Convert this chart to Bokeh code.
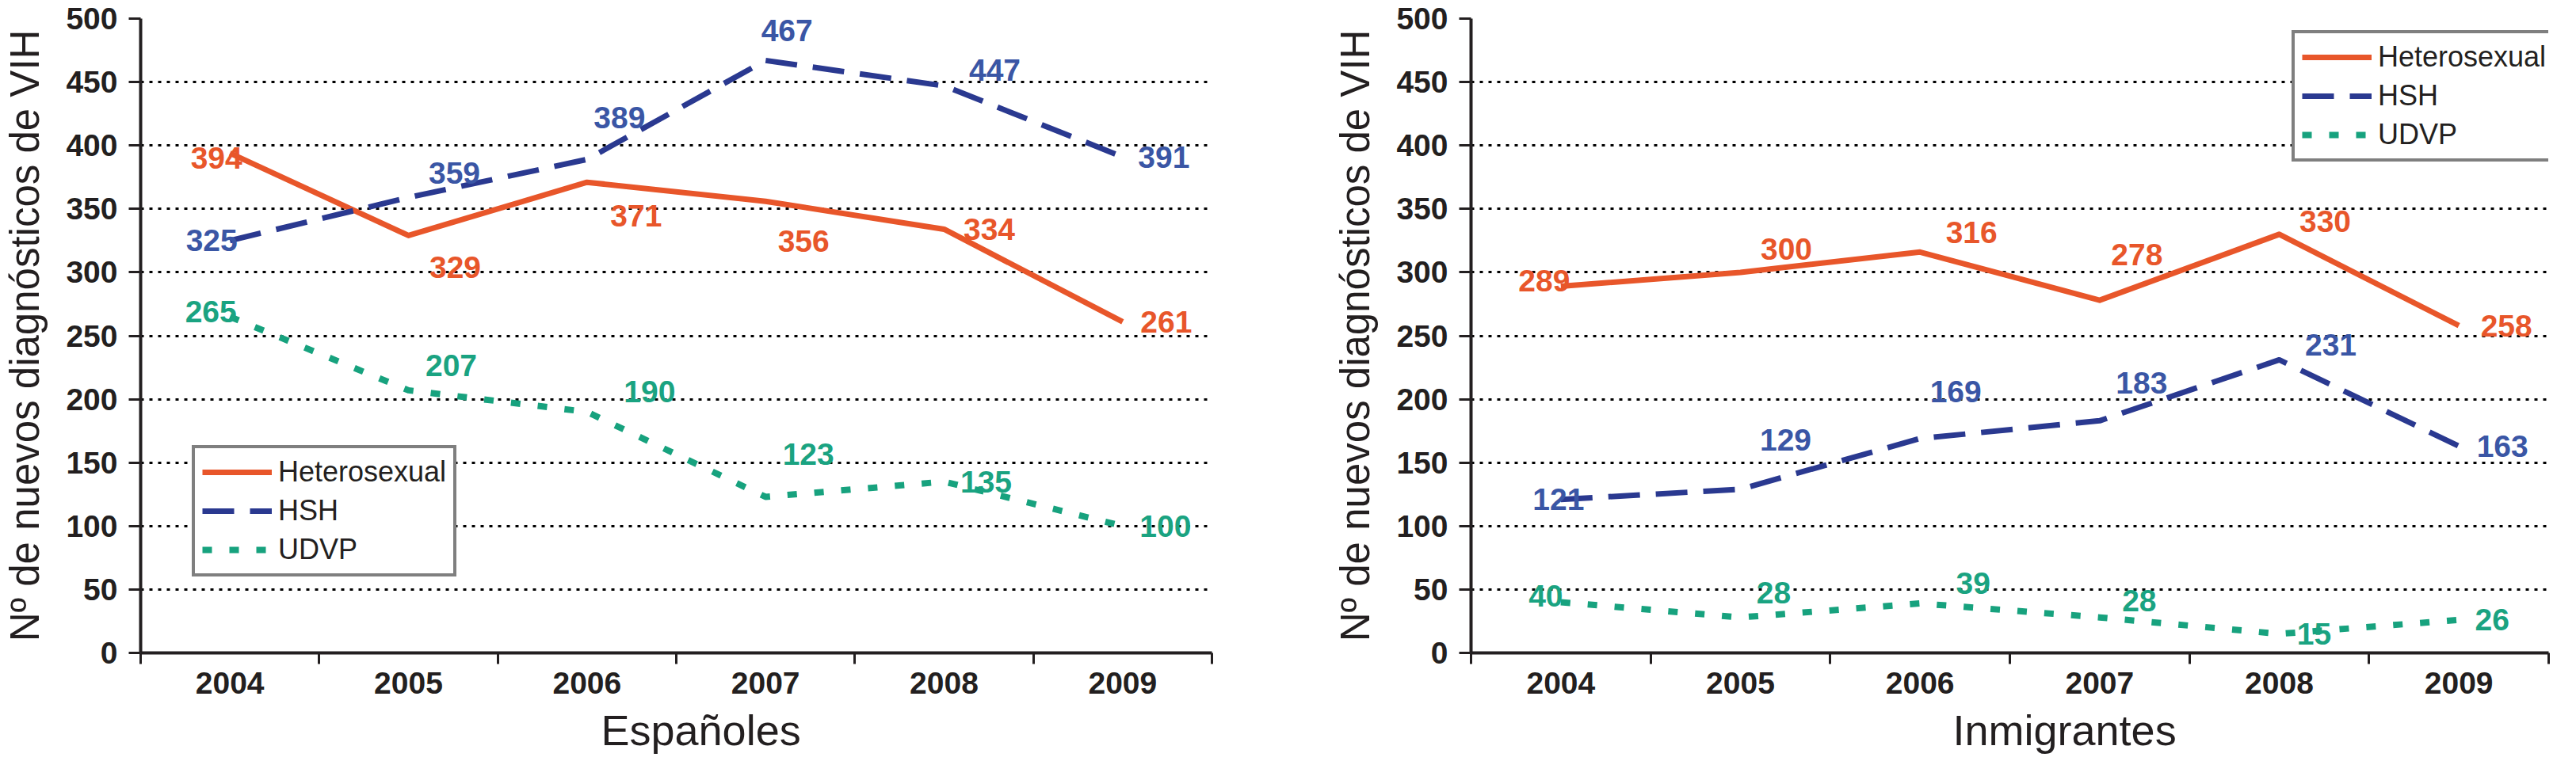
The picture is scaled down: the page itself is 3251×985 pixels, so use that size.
from bokeh.plotting import figure
from bokeh.models import Range1d, FixedTicker, Title
from bokeh.layouts import row
from bokeh.core.properties import value
from bokeh.embed import file_html
from bokeh.resources import INLINE

# ---------------- data ----------------
years = ["2004", "2005", "2006", "2007", "2008", "2009"]
series_names = ["Heterosexual", "HSH", "UDVP"]

esp_hetero = [394, 329, 371, 356, 334, 261]
esp_hsh = [325, 359, 389, 467, 447, 391]
esp_udvp = [265, 207, 190, 123, 135, 100]

inm_hetero = [289, 300, 316, 278, 330, 258]
inm_hsh = [121, 129, 169, 183, 231, 163]
inm_udvp = [40, 28, 39, 28, 15, 26]

y_ticks = list(range(0, 501, 50))
y_title = "Nº de nuevos diagnósticos de VIH"
title_esp = "Españoles"
title_inm = "Inmigrantes"

# data-label placement offsets in pixels (dx right, dy down), per series
esp_dx = [[-17, 59, 62, 48, 57, 55], [-23, 58, 41, 27, 64, 52], [-24, 54, 79, 54, 53, 54]]
esp_dy = [[6, 40, 42, 50, 0, 0], [0, -31, -53, -38, -20, 0], [-6, -31, -26, -54, 0, 0]]
inm_dx = [[-21, 58, 65, 47, 58, 60], [-3, 57, 45, 53, 65, 55], [-19, 42, 67, 50, 44, 42]]
inm_dy = [[-7, -29, -25, -58, -16, 0], [0, -62, -59, -48, -19, 0], [-8, -31, -26, -21, 0, 0]]

# ---------------- styles ----------------
FONT = "Liberation Sans"
INK = "#231F20"
line_colors = ["#E8562A", "#2A3990", "#17A27E"]
text_colors = ["#E8562A", "#3A56A5", "#1AA381"]
dashes = ["solid", "40 20", "12 22"]
widths = [7, 7, 8]


def make_chart(series, dxs, dys, title, title_shift, legend_loc,
               width, height, b_left, b_right, b_top, b_bottom):
    p = figure(width=width, height=height, output_backend="svg",
               toolbar_location=None,
               x_range=Range1d(-0.5, 5.5), y_range=Range1d(0, 500),
               min_border_left=b_left, min_border_right=b_right,
               min_border_top=b_top, min_border_bottom=b_bottom)
    p.outline_line_color = None
    p.background_fill_color = "white"
    p.border_fill_color = "white"
    p.xgrid.grid_line_color = None
    p.ygrid.grid_line_color = "black"
    p.ygrid.grid_line_dash = "4 7"
    p.ygrid.grid_line_width = 3
    p.ygrid.ticker = FixedTicker(ticks=y_ticks)

    # y axis
    ya = p.yaxis[0]
    ya.ticker = FixedTicker(ticks=y_ticks)
    ya.axis_line_color = INK
    ya.axis_line_width = 4
    ya.major_tick_line_color = INK
    ya.major_tick_line_width = 3
    ya.major_tick_out = 15
    ya.major_tick_in = 0
    ya.minor_tick_line_color = None
    ya.major_label_standoff = 14
    ya.major_label_text_font = FONT
    ya.major_label_text_font_style = "bold"
    ya.major_label_text_font_size = "39px"
    ya.major_label_text_color = INK
    ya.axis_label = y_title
    ya.axis_label_text_font = FONT
    ya.axis_label_text_font_style = "normal"
    ya.axis_label_text_font_size = "51px"
    ya.axis_label_text_color = INK
    ya.axis_label_standoff = 20

    # x axis: labels at category centres, tick marks at boundaries
    xa = p.xaxis[0]
    xa.ticker = FixedTicker(ticks=list(range(len(years))),
                            minor_ticks=[i - 0.5 for i in range(len(years) + 1)])
    xa.major_label_overrides = {i: y for i, y in enumerate(years)}
    xa.axis_line_color = INK
    xa.axis_line_width = 4
    xa.major_tick_line_color = None
    xa.major_tick_out = 0
    xa.major_tick_in = 0
    xa.minor_tick_line_color = INK
    xa.minor_tick_line_width = 3
    xa.minor_tick_out = 14
    xa.minor_tick_in = 0
    xa.major_label_standoff = 10
    xa.major_label_text_font = FONT
    xa.major_label_text_font_style = "bold"
    xa.major_label_text_font_size = "39px"
    xa.major_label_text_color = INK

    xs = list(range(len(years)))
    for k, vals in enumerate(series):
        p.line(xs, vals, line_color=line_colors[k], line_width=widths[k],
               line_dash=dashes[k], line_join="round", line_cap="butt",
               legend_label=series_names[k])
    for k, vals in enumerate(series):
        p.text(x=xs, y=vals, text=[str(v) for v in vals],
               x_offset=dxs[k], y_offset=dys[k],
               text_color=text_colors[k], text_font=value(FONT),
               text_font_style="bold", text_font_size=value("39px"),
               text_align="center", text_baseline="middle")

    leg = p.legend[0]
    leg.location = legend_loc
    leg.border_line_color = "black"
    leg.border_line_width = 4
    leg.background_fill_color = "white"
    leg.background_fill_alpha = 1
    leg.label_text_font = FONT
    leg.label_text_font_size = "36px"
    leg.label_text_color = INK
    leg.glyph_width = 88
    leg.glyph_height = 42
    leg.label_height = 42
    leg.label_standoff = 8
    leg.spacing = 7
    leg.padding = 9
    leg.margin = 0

    t = Title(text=title, align="left", offset=title_shift,
              text_font=FONT, text_font_size="54px", text_font_style="normal",
              text_color=INK, standoff=22)
    p.add_layout(t, "below")
    return p


left = make_chart([esp_hetero, esp_hsh, esp_udvp], esp_dx, esp_dy,
                  title_esp, 581, (65, 96),
                  width=1592, height=969, b_left=174, b_right=63,
                  b_top=23, b_bottom=138)
right = make_chart([inm_hetero, inm_hsh, inm_udvp], inm_dx, inm_dy,
                   title_inm, 608, (1036, 620),
                   width=1643, height=969, b_left=264, b_right=19,
                   b_top=15, b_bottom=145)

layout = row(left, right)
open("out.html", "w").write(file_html(layout, INLINE))
